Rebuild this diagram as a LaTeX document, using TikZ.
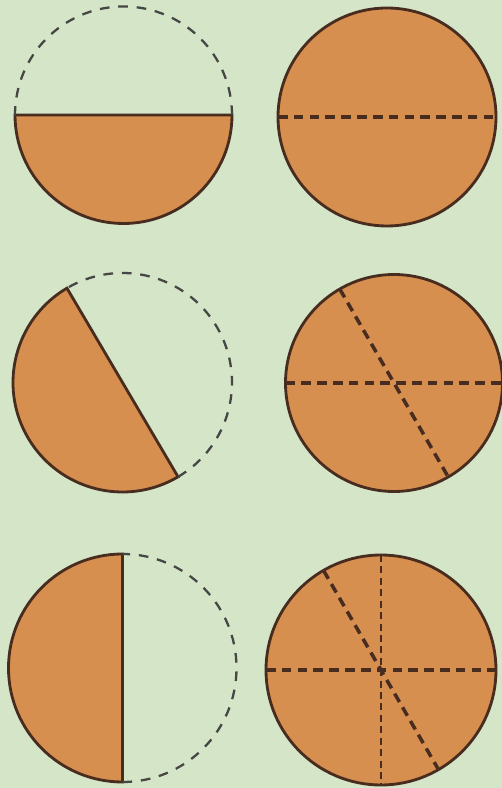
\documentclass[tikz,border=0pt]{standalone}
\usepackage{tikz}
\usetikzlibrary{calc}
\definecolor{bgGreen}{RGB}{212,230,199}
\definecolor{fracOrange}{RGB}{214,143,78}
\definecolor{fracBrown}{RGB}{72,44,32}
\definecolor{dashGrey}{RGB}{70,70,68}

\begin{document}
\begin{tikzpicture}[
        x=0.02cm, y=0.02cm,
        part/.style={fill=fracOrange, draw=fracBrown, line width=1.6pt},
        missing/.style={draw=dashGrey, line width=1.3pt, dash pattern=on 5.5pt off 5pt},
        fold/.style={draw=fracBrown, line width=2pt, dash pattern=on 5.5pt off 3.5pt},
        thinfold/.style={draw=fracBrown, line width=1pt, dash pattern=on 4pt off 2.5pt}
    ]
        \fill[bgGreen] (0,0) rectangle (502,788);
        \useasboundingbox (0,0) rectangle (502,788);

        % centres of the halves (left) and wholes (right)
        \coordinate (half1)  at (123.5, 673);
        \coordinate (whole1) at (387, 671);
        \coordinate (half2)  at (122.5, 405.5);
        \coordinate (whole2) at (394, 405);
        \coordinate (half3)  at (122.5, 120);
        \coordinate (whole3) at (381, 118);

        % row 1
        \def\r{108.5}
        \draw[part] ($(half1)+(180:\r)$) arc[start angle=180, end angle=360, radius=\r] -- cycle;
        \draw[missing] ($(half1)+(0:\r)$) arc[start angle=0, end angle=180, radius=\r];
        \def\r{109}
        \draw[part] (whole1) circle[radius=\r];
        \draw[fold] ($(whole1)+(180:\r)$) -- ($(whole1)+(0:\r)$);

        % row 2
        \def\r{109.5}
        \draw[part] ($(half2)+(120.5:\r)$) arc[start angle=120.5, end angle=300.5, radius=\r] -- cycle;
        \draw[missing] ($(half2)+(300.5:\r)$) arc[start angle=300.5, end angle=480.5, radius=\r];
        \def\r{108.5}
        \draw[part] (whole2) circle[radius=\r];
        \draw[fold] ($(whole2)+(180:\r)$) -- ($(whole2)+(0:\r)$);
        \draw[fold] ($(whole2)+(120:\r)$) -- ($(whole2)+(300:\r)$);

        % row 3
        \def\r{114}
        \draw[part] ($(half3)+(90:\r)$) arc[start angle=90, end angle=270, radius=\r] -- cycle;
        \draw[missing] ($(half3)+(270:\r)$) arc[start angle=270, end angle=450, radius=\r];
        \def\r{115}
        \draw[part] (whole3) circle[radius=\r];
        \draw[fold] ($(whole3)+(180:\r)$) -- ($(whole3)+(0:\r)$);
        \draw[fold] ($(whole3)+(120:\r)$) -- ($(whole3)+(300:\r)$);
        \draw[thinfold] ($(whole3)+(90:\r)$) -- ($(whole3)+(270:\r)$);
    \end{tikzpicture}
\end{document}
